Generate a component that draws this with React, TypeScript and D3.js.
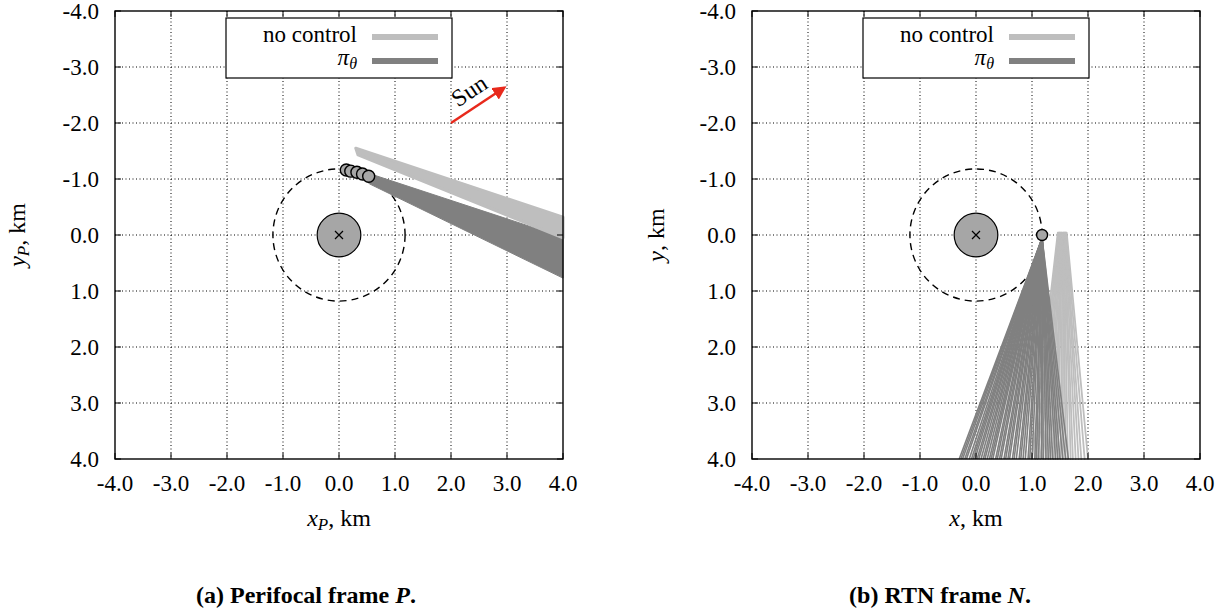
import React from "react";
import * as d3 from "d3";

// axis ticks, km
const tickValues = [-4, -3, -2, -1, 0, 1, 2, 3, 4];
const gridValues = [-3, -2, -1, 0, 1, 2, 3];
const bodyRadius = 0.39;
const keepOutRadius = 1.18;

// (a) perifocal frame: band outlines [x, y] km
const noCtrlUpperP = [[0.3, -1.55], [4.0, -0.32]];
const noCtrlLowerP = [[0.34, -1.43], [4.0, 0.05]];
const piUpperP = [[0.2, -1.21], [4.0, 0.04]];
const piLowerP = [[0.55, -0.91], [4.0, 0.77]];
const piStartsP = [[0.13, -1.16], [0.21, -1.14], [0.32, -1.12], [0.42, -1.09], [0.53, -1.05]];
const sunFrom = [2.0, -2.0];
const sunTo = [2.95, -2.63];

// (b) RTN frame: straight trajectories to the bottom edge (y = 4 km)
const piStartN = [1.18, 0.06];
const piEndXN = [-0.3, -0.27, -0.24, -0.2, -0.17, -0.12, -0.08, -0.05, -0.02, 0.02, 0.05, 0.09,
  0.13, 0.16, 0.2, 0.24, 0.27, 0.3, 0.35, 0.38, 0.42, 0.45, 0.5, 0.53, 0.57, 0.6, 0.65, 0.68, 0.72,
  0.77, 0.8, 0.84, 0.88, 0.93, 0.96, 1.0, 1.05, 1.08, 1.12, 1.17, 1.2, 1.25, 1.29, 1.33, 1.37,
  1.42, 1.46, 1.5, 1.55, 1.6, 1.65];
const noCtrlStartXN = [1.46, 1.47, 1.48, 1.49, 1.5, 1.5, 1.51, 1.52, 1.53, 1.53, 1.54, 1.55, 1.56,
  1.56, 1.57, 1.58, 1.58, 1.59, 1.6, 1.6, 1.61, 1.62];
const noCtrlEndXN = [1.0, 1.06, 1.1, 1.15, 1.2, 1.24, 1.29, 1.33, 1.38, 1.42, 1.46, 1.51, 1.55,
  1.6, 1.64, 1.69, 1.73, 1.78, 1.83, 1.88, 1.94, 2.0];
const noCtrlStartYN = -0.04;
const markerN = [1.18, 0];

const LIGHT = "#bebebe";
const DARK = "#808080";
const SERIF = "Liberation Serif, Times New Roman, serif";
const SIZE = 448;
const TOP = 11;
const fmt = (v: number) => d3.format(".1f")(v).replace("\u2212", "-");

function Panel({ left, xName, yName, yLabelX, children }: any) {
  const x = d3.scaleLinear().domain([-4, 4]).range([left, left + SIZE]);
  const y = d3.scaleLinear().domain([-4, 4]).range([TOP, TOP + SIZE]);
  const r0 = x(bodyRadius) - x(0);
  const rk = x(keepOutRadius) - x(0);
  const cx = x(0), cy = y(0);
  const lx = left + 111;
  return (
    <g>
      {gridValues.map((v) => (
        <g key={v} stroke="#000" strokeWidth={1} strokeDasharray="1,2.5">
          <line x1={x(v)} x2={x(v)} y1={TOP} y2={TOP + SIZE} />
          <line x1={left} x2={left + SIZE} y1={y(v)} y2={y(v)} />
        </g>
      ))}
      <circle cx={cx} cy={cy} r={rk} fill="none" stroke="#000" strokeWidth={1.4} strokeDasharray="7,5" />
      <circle cx={cx} cy={cy} r={r0} fill="#a6a6a6" stroke="#000" strokeWidth={1.2} />
      <path d={`M${cx - 4},${cy - 4}L${cx + 4},${cy + 4}M${cx - 4},${cy + 4}L${cx + 4},${cy - 4}`} stroke="#000" strokeWidth={1.2} />
      {children(x, y)}
      <rect x={left} y={TOP} width={SIZE} height={SIZE} fill="none" stroke="#000" strokeWidth={1.4} />
      {tickValues.map((v) => (
        <g key={v} stroke="#000" strokeWidth={1}>
          <line x1={x(v)} x2={x(v)} y1={TOP + SIZE} y2={TOP + SIZE - 6} />
          <line x1={x(v)} x2={x(v)} y1={TOP} y2={TOP + 6} />
          <line x1={left} x2={left + 6} y1={y(v)} y2={y(v)} />
          <line x1={left + SIZE} x2={left + SIZE - 6} y1={y(v)} y2={y(v)} />
        </g>
      ))}
      <g fontFamily={SERIF} fontSize={23} fill="#000">
        {tickValues.map((v) => (
          <text key={"x" + v} x={x(v)} y={TOP + SIZE + 32} textAnchor="middle">{fmt(v)}</text>
        ))}
        {tickValues.map((v) => (
          <text key={"y" + v} x={left - 16} y={y(v) + 8} textAnchor="end">{fmt(v)}</text>
        ))}
      </g>
      <text x={cx} y={526} textAnchor="middle" fontFamily={SERIF} fontSize={24}>
        <tspan fontStyle="italic">x</tspan>
        {xName && <tspan fontStyle="italic" fontSize={17} dy={4}>{xName}</tspan>}
        <tspan dy={xName ? -4 : 0}>, km</tspan>
      </text>
      <text transform={`translate(${yLabelX},${cy}) rotate(-90)`} textAnchor="middle" fontFamily={SERIF} fontSize={24}>
        <tspan fontStyle="italic">y</tspan>
        {yName && <tspan fontStyle="italic" fontSize={17} dy={4}>{yName}</tspan>}
        <tspan dy={yName ? -4 : 0}>, km</tspan>
      </text>
      <rect x={lx} y={18} width={226} height={60} fill="#fff" stroke="#000" strokeWidth={1.2} />
      <text x={lx + 131} y={42} textAnchor="end" fontFamily={SERIF} fontSize={23}>no control</text>
      <text x={lx + 131} y={65} textAnchor="end" fontFamily={SERIF} fontSize={23}>
        <tspan fontStyle="italic">π</tspan>
        <tspan fontStyle="italic" fontSize={16} dy={4}>θ</tspan>
      </text>
      <line x1={lx + 146} x2={lx + 212} y1={37} y2={37} stroke={LIGHT} strokeWidth={6} />
      <line x1={lx + 146} x2={lx + 212} y1={61} y2={61} stroke={DARK} strokeWidth={6} />
    </g>
  );
}

export default function App() {
  const line = d3.line<number[]>().x((d) => d[0]).y((d) => d[1]);
  const band = (x: any, y: any, upper: number[][], lower: number[][]) =>
    line([...upper, ...lower.slice().reverse()].map((p) => [x(p[0]), y(p[1])])) + "Z";

  return (
    <svg width={1223} height={613} style={{ position: "absolute", left: 0, top: 0, background: "#fff" }}>
      <defs>
        <marker id="sunHead" viewBox="0 0 10 10" refX={8} refY={5} markerWidth={5.5} markerHeight={5.5} orient="auto">
          <path d="M0,0L10,5L0,10Z" fill="#e8291c" />
        </marker>
      </defs>
      <Panel left={115} xName="P" yName="P" yLabelX={25}>
        {(x: any, y: any) => {
          const ang = (Math.atan2(y(sunTo[1]) - y(sunFrom[1]), x(sunTo[0]) - x(sunFrom[0])) * 180) / Math.PI;
          return (
            <g>
              <path d={band(x, y, piUpperP, piLowerP)} fill={DARK} stroke={DARK} strokeWidth={1} strokeLinejoin="round" />
              <path d={band(x, y, noCtrlUpperP, noCtrlLowerP)} fill={LIGHT} stroke={LIGHT} strokeWidth={3} strokeLinejoin="round" />
              {piStartsP.map((p, i) => (
                <circle key={i} cx={x(p[0])} cy={y(p[1])} r={6} fill="#a6a6a6" stroke="#000" strokeWidth={1.4} />
              ))}
              <line x1={x(sunFrom[0])} y1={y(sunFrom[1])} x2={x(sunTo[0])} y2={y(sunTo[1])}
                stroke="#e8291c" strokeWidth={2.5} markerEnd="url(#sunHead)" />
              <text transform={`translate(${(x(sunFrom[0]) + x(sunTo[0])) / 2 - 4},${(y(sunFrom[1]) + y(sunTo[1])) / 2 - 8}) rotate(${ang})`}
                textAnchor="middle" fontFamily={SERIF} fontSize={24}>Sun</text>
            </g>
          );
        }}
      </Panel>
      <Panel left={752} xName="" yName="" yLabelX={664}>
        {(x: any, y: any) => (
          <g>
            {noCtrlEndXN.map((e, i) => (
              <line key={"n" + i} x1={x(noCtrlStartXN[i])} y1={y(noCtrlStartYN)} x2={x(e)} y2={y(4)}
                stroke={LIGHT} strokeWidth={1.8} strokeLinecap="round" />
            ))}
            {piEndXN.map((e, i) => (
              <line key={"p" + i} x1={x(piStartN[0])} y1={y(piStartN[1])} x2={x(e)} y2={y(4)}
                stroke={DARK} strokeWidth={1.6} />
            ))}
            <circle cx={x(markerN[0])} cy={y(markerN[1])} r={5.5} fill="#a6a6a6" stroke="#000" strokeWidth={1.4} />
          </g>
        )}
      </Panel>
      <g fontFamily={SERIF} fontWeight="bold" fontSize={24} textAnchor="middle">
        <text x={306} y={603}>(a) Perifocal frame <tspan fontStyle="italic">P</tspan>.</text>
        <text x={940} y={603}>(b) RTN frame <tspan fontStyle="italic">N</tspan>.</text>
      </g>
    </svg>
  );
}
